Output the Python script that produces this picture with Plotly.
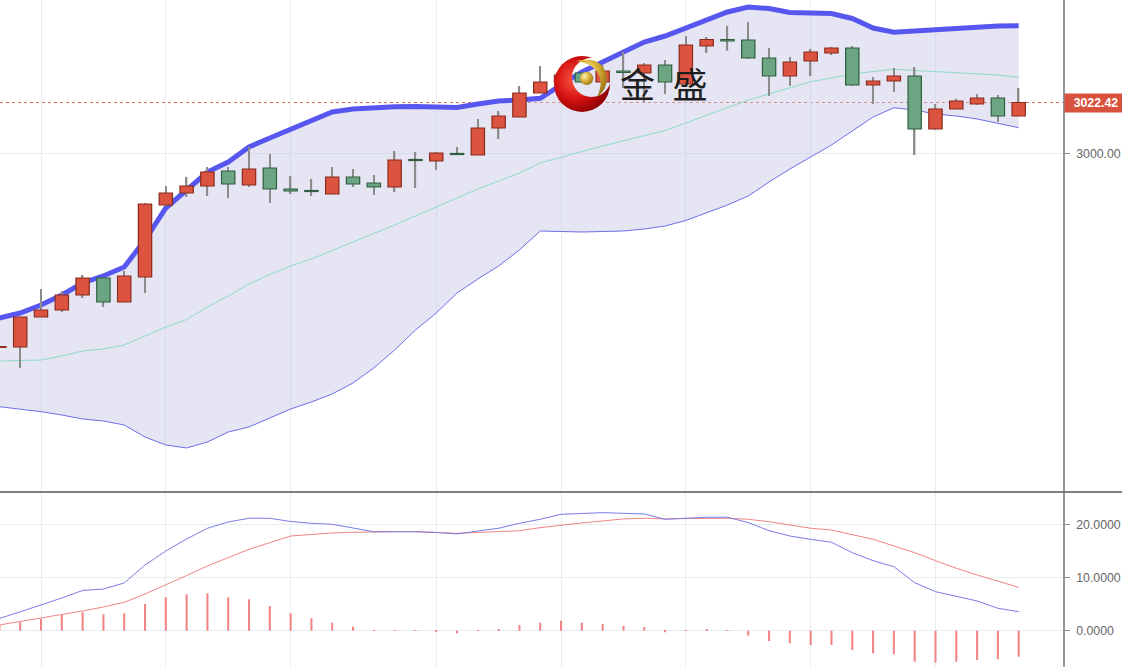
import base64
import plotly.graph_objects as go
from plotly.subplots import make_subplots

# ---------------- data ----------------
bar_index = list(range(-1, 49))

open_ = [2914.80, 2914.94, 2928.13, 2931.20, 2937.80, 2945.27, 2934.72, 2945.71, 2977.36, 2982.64,
         2985.71, 2992.31, 2986.15, 2993.63, 2984.39, 2983.73, 2982.20, 2989.67, 2987.03, 2985.27,
         2997.36, 2996.70, 3000.00, 2999.34, 3011.21, 3016.05, 3026.60, 3031.43, 3035.39, 3031.43,
         3036.27, 3035.39, 3038.90, 3030.55, 3047.26, 3050.11, 3049.89, 3041.98, 3034.07, 3040.66,
         3044.18, 3046.38, 3030.11, 3031.87, 3034.07, 3010.77, 3019.56, 3021.76, 3024.40, 3016.49]
high = [2915.10, 2928.13, 2940.43, 2939.55, 2946.59, 2945.71, 2948.35, 2978.24, 2985.71, 2989.67,
        2994.07, 2994.07, 3002.86, 2999.78, 2990.11, 2988.79, 2994.07, 2993.19, 2990.55, 3001.10,
        3000.66, 3000.66, 3002.86, 3015.17, 3018.68, 3029.67, 3038.47, 3037.00, 3035.83, 3038.90,
        3044.62, 3039.78, 3041.10, 3051.65, 3051.21, 3056.18, 3057.81, 3046.38, 3042.42, 3045.94,
        3046.82, 3047.26, 3033.63, 3037.59, 3038.03, 3021.76, 3024.09, 3026.16, 3025.72, 3028.79]
low = [2914.80, 2905.71, 2928.13, 2930.32, 2936.48, 2932.52, 2934.72, 2938.68, 2976.92, 2980.88,
       2981.32, 2980.44, 2985.27, 2978.24, 2982.20, 2981.32, 2982.20, 2985.27, 2981.76, 2983.08,
       2984.83, 2992.75, 2999.34, 2999.34, 3006.37, 3016.05, 3026.60, 3029.50, 3030.99, 3030.99,
       3028.79, 3022.64, 3026.16, 3030.11, 3044.18, 3045.19, 3041.54, 3025.28, 3029.67, 3034.07,
       3043.30, 3029.67, 3021.76, 3027.04, 2999.34, 3010.55, 3019.56, 3021.32, 3013.85, 3016.49]
close = [2915.10, 2928.13, 2931.20, 2937.80, 2945.27, 2934.72, 2946.15, 2977.80, 2982.64, 2985.71,
         2991.87, 2986.59, 2993.19, 2984.39, 2983.51, 2983.30, 2989.67, 2986.59, 2985.27, 2997.14,
         2996.92, 3000.22, 2999.56, 3011.21, 3016.49, 3026.60, 3031.43, 3034.50, 3031.43, 3036.27,
         3035.61, 3038.90, 3031.43, 3047.70, 3050.11, 3049.46, 3041.98, 3034.07, 3040.22, 3044.62,
         3046.38, 3030.11, 3031.87, 3034.07, 3010.77, 3019.56, 3023.08, 3024.40, 3016.49, 3022.42]

boll_upper = [2927.69, 2929.88, 2933.40, 2937.80, 2943.07, 2946.15, 2950.11, 2961.97, 2976.04, 2983.95,
              2991.87, 2996.26, 3002.86, 3006.81, 3010.77, 3014.73, 3018.24, 3019.56, 3020.22, 3020.57,
              3020.66, 3020.57, 3020.22, 3021.76, 3023.08, 3023.52, 3024.27, 3030.11, 3035.83, 3040.22,
              3044.62, 3049.02, 3051.65, 3055.17, 3059.13, 3062.20, 3064.40, 3063.74, 3061.98, 3061.76,
              3061.54, 3059.35, 3055.17, 3053.28, 3053.85, 3054.29, 3054.95, 3055.61, 3056.05, 3056.18]
boll_mid = [2908.78, 2909.00, 2909.22, 2910.98, 2913.18, 2914.06, 2915.82, 2919.77, 2923.73, 2927.03,
            2932.52, 2937.36, 2942.63, 2946.81, 2950.54, 2953.62, 2957.36, 2961.10, 2964.61, 2968.57,
            2972.52, 2976.48, 2980.44, 2984.39, 2987.91, 2991.43, 2995.82, 2998.46, 3000.88, 3003.30,
            3005.50, 3007.69, 3010.11, 3013.41, 3016.70, 3020.00, 3023.52, 3026.16, 3028.79, 3031.56,
            3033.19, 3034.95, 3036.05, 3037.01, 3036.49, 3035.96, 3035.48, 3035.04, 3034.51, 3033.50]
boll_lower = [2888.69, 2887.68, 2886.50, 2885.04, 2883.29, 2882.41, 2880.65, 2875.37, 2871.86, 2870.54,
              2873.18, 2877.57, 2879.77, 2883.73, 2887.68, 2890.76, 2894.28, 2899.11, 2905.71, 2913.62,
              2922.41, 2929.88, 2938.68, 2944.83, 2950.54, 2957.58, 2965.93, 2965.71, 2965.49, 2965.71,
              2965.93, 2966.81, 2968.13, 2970.55, 2973.84, 2977.36, 2981.32, 2987.47, 2993.19, 2998.46,
              3003.74, 3009.89, 3016.05, 3020.13, 3019.12, 3017.36, 3016.49, 3015.17, 3013.41, 3011.34]

macd_dif = [2.31, 3.54, 4.86, 6.19, 7.61, 7.89, 9.03, 12.43, 15.08, 17.35,
            19.38, 20.57, 21.27, 21.27, 20.66, 20.32, 20.13, 19.43, 18.73, 18.73,
            18.73, 18.58, 18.30, 18.86, 19.38, 20.32, 21.08, 22.02, 22.18, 22.33,
            22.21, 22.08, 21.08, 21.32, 21.46, 21.46, 20.44, 18.92, 17.92, 17.29,
            16.73, 14.76, 13.25, 12.11, 9.08, 7.38, 6.43, 5.62, 4.24, 3.60]
macd_dea = [1.08, 1.74, 2.35, 2.97, 3.73, 4.48, 5.37, 6.94, 8.65, 10.44,
            12.24, 13.85, 15.40, 16.65, 17.92, 18.20, 18.49, 18.62, 18.73, 18.73,
            18.73, 18.58, 18.43, 18.58, 18.73, 18.92, 19.49, 20.00, 20.38, 20.76,
            21.14, 21.27, 21.14, 21.23, 21.27, 21.27, 21.08, 20.62, 20.00, 19.38,
            19.05, 18.11, 17.29, 16.03, 14.76, 13.25, 11.81, 10.54, 9.40, 8.21]
macd_hist = [1.08, 1.59, 2.21, 2.97, 3.48, 3.10, 3.29, 5.05, 6.32, 6.89,
             7.08, 6.32, 5.94, 4.67, 3.29, 2.35, 1.51, 0.76, 0.02, -0.03,
             0.03, -0.15, -0.49, 0.02, 0.26, 1.08, 1.51, 1.89, 1.51, 1.27,
             0.89, 0.70, -0.30, 0.02, 0.15, -0.02, -0.95, -1.95, -2.38, -2.71,
             -2.71, -3.65, -4.28, -4.47, -5.87, -6.05, -5.87, -5.54, -5.41, -4.92]

grid_index = [1, 7, 13, 20, 26, 32, 38, 44]
price_ticks = [3000]
macd_ticks = [0, 10, 20]
last_price = close[-1]

# ---------------- styles ----------------
UP_FILL, UP_LINE = "#DC5440", "#8A2A1C"
DN_FILL, DN_LINE = "#6BA582", "#2F5E40"
WICK = "#8C8C8C"
GRID = "#E8EDF2"
AXIS = "#8F959D"

W, H = 1122, 667
R_MARGIN = 59
PLOT_W = W - R_MARGIN
main_bottom_px, macd_top_px = 491, 493
PRICE_RANGE = [2851.63, 3067.48]

fig = make_subplots(rows=2, cols=1, shared_xaxes=False, vertical_spacing=0.0)

# Bollinger fill + lines (base price axis)
fig.add_trace(go.Scatter(x=bar_index, y=boll_upper, mode="lines", line=dict(width=0, color="rgba(0,0,0,0)"),
                         hoverinfo="skip", showlegend=False), row=1, col=1)
fig.add_trace(go.Scatter(x=bar_index, y=boll_lower, mode="lines", fill="tonexty",
                         fillcolor="rgba(198,198,228,0.45)", line=dict(width=1, color="#6E6EEA"),
                         showlegend=False), row=1, col=1)
fig.add_trace(go.Scatter(x=bar_index, y=boll_mid, mode="lines", line=dict(width=1, color="#8EDDC3"),
                         showlegend=False), row=1, col=1)
fig.add_trace(go.Scatter(x=bar_index, y=boll_upper, mode="lines", line=dict(width=5, color="#5757F0"),
                         showlegend=False), row=1, col=1)

# Candles on an overlaying axis so they sit above the band fill
wick_base = [min(l, h) for l, h in zip(low, high)]
wick_len = [h - l for l, h in zip(low, high)]
fig.add_trace(go.Bar(x=bar_index, y=wick_len, base=wick_base, width=0.068,
                     marker=dict(color=WICK, line=dict(width=0)), showlegend=False,
                     xaxis="x", yaxis="y3"))
for up in (True, False):
    xs, base, hgt = [], [], []
    for i, o, c in zip(bar_index, open_, close):
        if (c >= o) == up:
            xs.append(i)
            base.append(min(o, c))
            hgt.append(abs(c - o))
    fig.add_trace(go.Bar(x=xs, y=hgt, base=base, width=0.64,
                         marker=dict(color=UP_FILL if up else DN_FILL,
                                     line=dict(color=UP_LINE if up else DN_LINE, width=1.2)),
                         showlegend=False, xaxis="x", yaxis="y3"))

# MACD
fig.add_trace(go.Bar(x=bar_index, y=macd_hist, width=0.1, marker=dict(color="#EF8585", line=dict(width=0)),
                     showlegend=False), row=2, col=1)
fig.add_trace(go.Scatter(x=bar_index, y=macd_dea, mode="lines", line=dict(width=1, color="#EE8484"),
                         showlegend=False), row=2, col=1)
fig.add_trace(go.Scatter(x=bar_index, y=macd_dif, mode="lines", line=dict(width=1, color="#7C7CE4"),
                         showlegend=False), row=2, col=1)

xrange = [-0.971, 50.13]
common_x = dict(range=xrange, tickvals=grid_index, showticklabels=False, showgrid=True, gridcolor=GRID,
                gridwidth=1, zeroline=False, showline=False, ticks="", automargin=False)
fig.update_xaxes(**common_x, row=1, col=1)
fig.update_xaxes(**common_x, row=2, col=1)

yfont = dict(family="Arial, Liberation Sans, sans-serif", size=12.3, color="#666666")
common_y = dict(side="right", showgrid=True, gridcolor=GRID, zeroline=False, showline=True,
                linecolor=AXIS, linewidth=1.5, ticks="outside", ticklen=5, tickcolor=AXIS,
                tickfont=yfont, ticklabelstandoff=4, automargin=False)
fig.update_yaxes(**common_y, range=PRICE_RANGE, tickvals=price_ticks, tickformat=".2f",
                 domain=[1 - main_bottom_px / H, 1], row=1, col=1)
fig.update_yaxes(**common_y, range=[-6.87, 26.05], tickvals=macd_ticks, tickformat=".4f",
                 domain=[0, 1 - macd_top_px / H], row=2, col=1)
fig.update_layout(yaxis3=dict(overlaying="y", range=PRICE_RANGE, visible=False, side="right",
                              showgrid=False, zeroline=False, automargin=False))

# Shapes: last price dotted line and panel separator
fig.add_shape(type="line", xref="x domain", yref="y", x0=0, x1=1, y0=last_price, y1=last_price,
              line=dict(color="#E06A5A", width=1, dash="dot"), layer="below")
sep_y = 1 - (main_bottom_px + 1) / H
fig.add_shape(type="line", xref="paper", yref="paper", x0=0, x1=W / PLOT_W, y0=sep_y, y1=sep_y,
              line=dict(color="#555555", width=1.6), layer="above")

# Last price label
fig.add_annotation(xref="paper", yref="y", x=1, y=last_price, xanchor="left", yanchor="middle",
                   text=f"<b>{last_price:.2f}</b>", showarrow=False, xshift=1, width=58, align="center",
                   font=dict(family="Arial, Liberation Sans, sans-serif", size=12.3, color="white"),
                   bgcolor="#D8523D", borderpad=2)

# Logo (graphic) + brand text
svg = """<svg xmlns="http://www.w3.org/2000/svg" width="60" height="62" viewBox="0 0 60 62">
<defs>
<radialGradient id="r" cx="0.38" cy="0.42" r="0.65">
<stop offset="0" stop-color="#ff5a45"/><stop offset="0.55" stop-color="#d41212"/><stop offset="1" stop-color="#8a0000"/>
</radialGradient>
<radialGradient id="g" cx="0.35" cy="0.35" r="0.7">
<stop offset="0" stop-color="#fff4b8"/><stop offset="0.5" stop-color="#dcb43c"/><stop offset="1" stop-color="#9c7412"/>
</radialGradient>
<mask id="m"><rect width="60" height="62" fill="white"/><circle cx="38.5" cy="24.5" r="19.5" fill="black"/></mask>
</defs>
<circle cx="29" cy="31" r="28" fill="url(#r)" mask="url(#m)"/>
<path d="M23 8 Q50 2 54 24 Q54 37 44 44 Q49 34 47 25 Q43 11 23 8 Z" fill="url(#g)"/>
<circle cx="33.7" cy="25.3" r="6.6" fill="url(#g)"/>
</svg>"""
src = "data:image/svg+xml;base64," + base64.b64encode(svg.encode()).decode()
fig.add_layout_image(dict(source=src, xref="paper", yref="paper", x=553 / PLOT_W, y=1 - 53 / H,
                          sizex=60 / PLOT_W, sizey=62 / H, xanchor="left", yanchor="top",
                          sizing="stretch", layer="above"))
fig.add_annotation(xref="paper", yref="paper", x=664 / PLOT_W, y=1 - 82 / H, text="金\u2002盛",
                   showarrow=False, xanchor="center", yanchor="middle",
                   font=dict(family="Noto Sans CJK SC", size=35, color="#1E1E1E"))

fig.update_layout(width=W, height=H, margin=dict(l=0, r=R_MARGIN, t=0, b=0, autoexpand=False),
                  paper_bgcolor="white", plot_bgcolor="white", barmode="overlay",
                  showlegend=False, hovermode=False)

fig.write_html("out.html", config={"displayModeBar": False},
               post_script="document.body.style.margin='0px';document.body.style.overflow='hidden';")
